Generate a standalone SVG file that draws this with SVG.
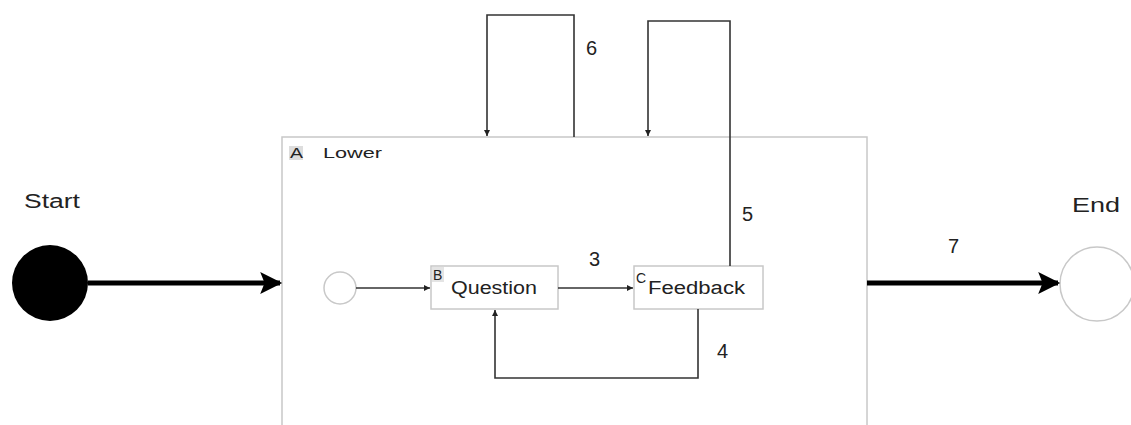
<svg xmlns="http://www.w3.org/2000/svg" width="1131" height="425" viewBox="0 0 1131 425">
  <style>
    .lbl { font-family: "Liberation Sans", Arial, sans-serif; fill: #222; }
    .big { font-size: 20px; }
    .mid { font-size: 18px; }
    .tag { font-size: 14px; }
    .box { fill: #fff; stroke: #c8c8c8; stroke-width: 1.5; }
    .edge { fill: none; stroke: #333; stroke-width: 1.6; }
    .thick { fill: none; stroke: #000; stroke-width: 5; }
  </style>
  <defs>
    <marker id="arrSmall" viewBox="0 0 10 10" refX="10" refY="5" markerWidth="6" markerHeight="6" orient="auto" markerUnits="userSpaceOnUse">
      <path d="M0,0 L10,5 L0,10 z" fill="#222"/>
    </marker>
    <marker id="arrBig" viewBox="0 0 10 10" refX="9" refY="5" markerWidth="24" markerHeight="22" orient="auto" markerUnits="userSpaceOnUse">
      <path d="M0,0 L10,5 L0,10 L2,5 z" fill="#000"/>
    </marker>
  </defs>

  <rect width="1131" height="425" fill="#fff"/>

  <!-- composite state A -->
  <g id="stateA">
    <rect class="box" x="282" y="137" width="585" height="300"/>
    <rect x="289" y="146" width="14" height="14" fill="#ddd"/>
    <text class="lbl tag" x="290" y="158" textLength="13" lengthAdjust="spacingAndGlyphs">A</text>
    <text class="lbl" font-size="15" x="323" y="158" textLength="59" lengthAdjust="spacingAndGlyphs">Lower</text>
  </g>

  <!-- start -->
  <g id="start">
    <circle cx="50" cy="283" r="38" fill="#000"/>
    <text class="lbl big" x="24" y="208" textLength="56" lengthAdjust="spacingAndGlyphs">Start</text>
  </g>

  <!-- end -->
  <g id="end">
    <circle cx="1097" cy="284" r="37" fill="#fff" stroke="#c8c8c8" stroke-width="1.5"/>
    <text class="lbl big" x="1072" y="212" textLength="48" lengthAdjust="spacingAndGlyphs">End</text>
  </g>

  <!-- inner initial -->
  <g id="innerInit">
    <circle cx="340" cy="288" r="16" fill="#fff" stroke="#c8c8c8" stroke-width="1.5"/>
  </g>

  <!-- state B -->
  <g id="stateB">
    <rect class="box" x="431" y="266" width="127" height="43"/>
    <rect x="432" y="267" width="12" height="15" fill="#e4e4e4"/>
    <text class="lbl tag" x="433" y="280">B</text>
    <text class="lbl mid" x="451" y="294" textLength="86" lengthAdjust="spacingAndGlyphs">Question</text>
  </g>

  <!-- state C -->
  <g id="stateC">
    <rect class="box" x="634" y="266" width="129" height="43"/>
    <text class="lbl tag" x="636" y="283">C</text>
    <text class="lbl mid" x="648" y="294" textLength="97" lengthAdjust="spacingAndGlyphs">Feedback</text>
  </g>

  <!-- transitions -->
  <g id="connectors">
    <line class="thick" x1="88" y1="283" x2="280" y2="283" marker-end="url(#arrBig)"/>
    <line class="thick" x1="867" y1="283" x2="1058" y2="283" marker-end="url(#arrBig)"/>
    <line class="edge" x1="356" y1="288" x2="430" y2="288" marker-end="url(#arrSmall)"/>
    <line class="edge" x1="558" y1="288" x2="633" y2="288" marker-end="url(#arrSmall)"/>
    <polyline class="edge" points="698,309 698,378 495,378 495,310" marker-end="url(#arrSmall)"/>
    <polyline class="edge" points="730,266 730,21 648,21 648,136" marker-end="url(#arrSmall)"/>
    <polyline class="edge" points="574,137 574,15 487,15 487,136" marker-end="url(#arrSmall)"/>
  </g>

  <!-- transition labels -->
  <g id="edgeLabels">
    <text class="lbl big" x="589" y="266">3</text>
    <text class="lbl big" x="717" y="358">4</text>
    <text class="lbl big" x="742" y="221">5</text>
    <text class="lbl big" x="586" y="55">6</text>
    <text class="lbl big" x="948" y="253">7</text>
  </g>
</svg>
